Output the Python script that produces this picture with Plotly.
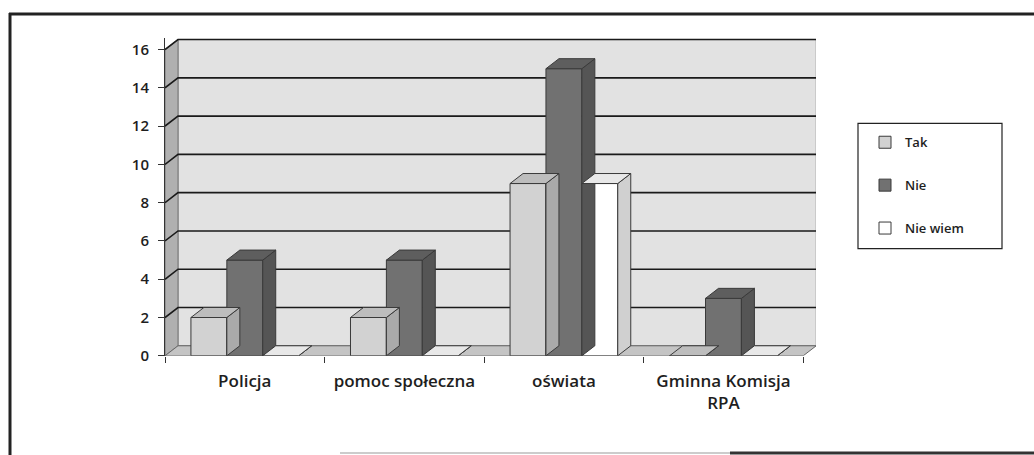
import plotly.graph_objects as go

categories = ["Policja", "pomoc społeczna", "oświata", "Gminna Komisja<br>RPA"]
series_names = ["Tak", "Nie", "Nie wiem"]
tak = [2, 2, 9, 0]
nie = [5, 5, 15, 3]
nie_wiem = [0, 0, 9, 0]
y_ticks = [0, 2, 4, 6, 8, 10, 12, 14, 16]

values = [tak, nie, nie_wiem]
front_colors = ["#d2d2d2", "#717171", "#ffffff"]
top_colors = ["#bdbdbd", "#5e5e5e", "#e8e8e8"]
side_colors = ["#aaaaaa", "#555555", "#d0d0d0"]

W = 1034
H = 455
HP = 445  # effective rendered paper height
x_px0, x_px1 = 165, 816
y_px0, y_px1 = 355, 38
xr = [-0.5, 3.58]
yr = [0, 16.6]
ux = (x_px1 - x_px0) / (xr[1] - xr[0])
uy = (y_px0 - y_px1) / (yr[1] - yr[0])
dx = 13 / ux
dy = 10 / uy

bw = 0.225
offsets = [-bw, 0.0, bw]

fig = go.Figure()

shapes = []
xl = xr[0]
xe = 3.5
shapes.append(dict(type="path", xref="x", yref="y", layer="below",
                   path=f"M {xl+dx},{dy} L {xe+dx},{dy} L {xe+dx},{16+dy} L {xl+dx},{16+dy} Z",
                   fillcolor="#e2e2e2", line=dict(color="#888888", width=1)))
shapes.append(dict(type="path", xref="x", yref="y", layer="below",
                   path=f"M {xl},0 L {xl+dx},{dy} L {xl+dx},{16+dy} L {xl},16 Z",
                   fillcolor="#b0b0b0", line=dict(color="#777777", width=1)))
shapes.append(dict(type="path", xref="x", yref="y", layer="below",
                   path=f"M {xl},0 L {xe},0 L {xe+dx},{dy} L {xl+dx},{dy} Z",
                   fillcolor="#c4c4c4", line=dict(color="#666666", width=1)))
for t in y_ticks[1:]:
    shapes.append(dict(type="path", xref="x", yref="y", layer="below",
                       path=f"M {xl},{t} L {xl+dx},{t+dy} L {xe+dx},{t+dy}",
                       line=dict(color="#1a1a1a", width=1.6)))

for s in range(3):
    tx, ty, sx, sy = [], [], [], []
    for i, v in enumerate(values[s]):
        x0 = i + offsets[s] - bw / 2
        x1 = i + offsets[s] + bw / 2
        tx += [x0, x1, x1 + dx, x0 + dx, x0, None]
        ty += [v, v, v + dy, v + dy, v, None]
        sx += [x1, x1 + dx, x1 + dx, x1, x1, None]
        sy += [0, dy, v + dy, v, 0, None]
    fig.add_trace(go.Scatter(x=sx, y=sy, mode="lines", fill="toself", fillcolor=side_colors[s],
                             line=dict(color="#3a3a3a", width=1), showlegend=False, hoverinfo="skip"))
    fig.add_trace(go.Scatter(x=tx, y=ty, mode="lines", fill="toself", fillcolor=top_colors[s],
                             line=dict(color="#3a3a3a", width=1), showlegend=False, hoverinfo="skip"))

for s in range(3):
    fig.add_trace(go.Bar(
        x=[i + offsets[s] for i in range(len(categories))],
        y=values[s], width=bw, name=series_names[s],
        marker=dict(color=front_colors[s], line=dict(color="#3a3a3a", width=1)),
        legendgroup=series_names[s],
    ))

# outer frame
shapes.append(dict(type="line", xref="paper", yref="paper", x0=10 / W, x1=10 / W,
                   y0=1 - 13 / HP, y1=-0.1, line=dict(color="#222222", width=3)))
shapes.append(dict(type="line", xref="paper", yref="paper", x0=9 / W, x1=1.02,
                   y0=1 - 14 / HP, y1=1 - 14 / HP, line=dict(color="#222222", width=3)))
shapes.append(dict(type="line", xref="paper", yref="paper", x0=730 / W, x1=1.02,
                   y0=1 - 452 / HP, y1=1 - 452 / HP, line=dict(color="#333333", width=3)))
shapes.append(dict(type="line", xref="paper", yref="paper", x0=340 / W, x1=730 / W,
                   y0=1 - 452 / HP, y1=1 - 452 / HP, line=dict(color="#cccccc", width=2)))
# legend box
shapes.append(dict(type="rect", xref="paper", yref="paper", layer="below",
                   x0=858 / W, x1=1002 / W, y0=1 - 248 / HP, y1=1 - 123 / HP,
                   fillcolor="white", line=dict(color="#222222", width=1.2)))

x_tick_font = dict(family="Open Sans, Lato, sans-serif", size=17, color="#1e1e1e", weight=600)
y_tick_font = dict(family="Open Sans, Lato, sans-serif", size=15, color="#1e1e1e", weight=600)

fig.update_layout(
    width=W, height=H,
    margin=dict(l=0, r=0, t=0, b=0),
    paper_bgcolor="white", plot_bgcolor="rgba(0,0,0,0)",
    barmode="overlay",
    shapes=shapes,
    font=dict(family="Open Sans, Lato, sans-serif", color="#1e1e1e", size=14),
    xaxis=dict(domain=[x_px0 / W, x_px1 / W], range=xr, tickvals=[0, 1, 2, 3], ticktext=categories,
               showgrid=False, zeroline=False, showline=False, ticks="",
               tickfont=x_tick_font, ticklabelstandoff=13,
               minor=dict(tickvals=[-0.5, 0.5, 1.5, 2.5, 3.5], ticks="outside", ticklen=6,
                          tickcolor="#333333", showgrid=False)),
    yaxis=dict(domain=[1 - y_px0 / HP, 1 - y_px1 / HP], range=yr, tickvals=y_ticks,
               showgrid=False, zeroline=False, showline=True, linecolor="#333333", linewidth=1,
               ticks="outside", ticklen=6, tickcolor="#333333",
               tickfont=y_tick_font, ticklabelstandoff=6),
    legend=dict(x=865 / W, y=1 - 127 / HP, xanchor="left", yanchor="top",
                borderwidth=0, bgcolor="rgba(0,0,0,0)",
                font=dict(family="Open Sans, Lato, sans-serif", size=13, color="#1e1e1e", weight=600),
                traceorder="grouped", tracegroupgap=23, itemwidth=30),
    showlegend=True,
)

fig.write_html("out.html", config={"displayModeBar": False},
               post_script="document.body.style.margin='0px';")
